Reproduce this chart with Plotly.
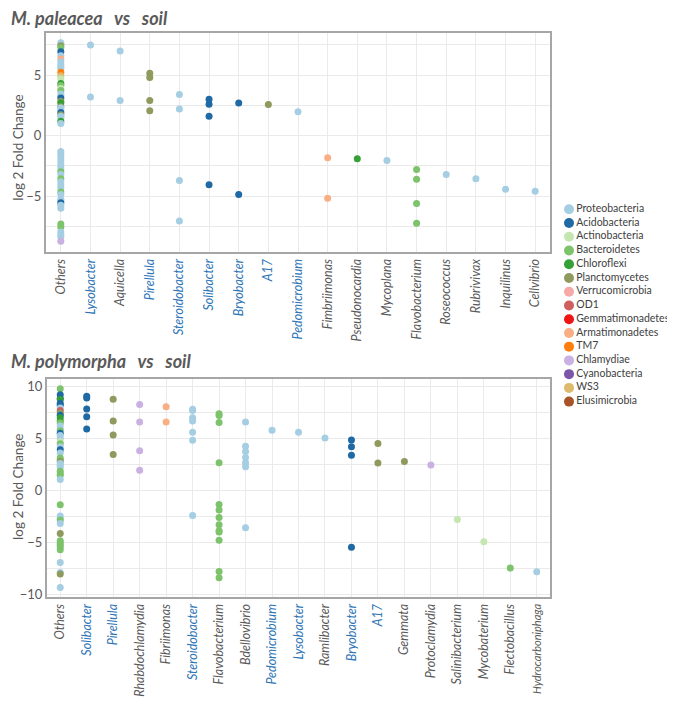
import plotly.graph_objects as go

FONT = "Lato"
GRAY = "#595959"
BLUE = "#2E75B6"

PHYLA = ["Proteobacteria", "Acidobacteria", "Actinobacteria", "Bacteroidetes", "Chloroflexi",
         "Planctomycetes", "Verrucomicrobia", "OD1", "Gemmatimonadetes", "Armatimonadetes",
         "TM7", "Chlamydiae", "Cyanobacteria", "WS3", "Elusimicrobia"]
PHYLUM_COLORS = ["#A6CEE3", "#1F6AA5", "#C5E6B0", "#7DC36B", "#35A035",
                 "#8F9A5E", "#F7A8A8", "#CF5F5F", "#F01414", "#F9AE84",
                 "#FF7F0E", "#C9B1E3", "#7B55A8", "#DDBA6C", "#A8532A"]

# ---------------- M. paleacea vs soil ----------------
TOP_GENERA = ["Others", "Lysobacter", "Aquicella", "Pirellula", "Steroidobacter", "Solibacter",
              "Bryobacter", "A17", "Pedomicrobium", "Fimbriimonas", "Pseudonocardia", "Mycoplana",
              "Flavobacterium", "Roseococcus", "Rubrivivax", "Inquilinus", "Cellvibrio"]
TOP_SHARED = ["Lysobacter", "Pirellula", "Steroidobacter", "Solibacter", "Bryobacter", "A17", "Pedomicrobium"]
TOP_GENUS_PHYLUM = [None, "Proteobacteria", "Proteobacteria", "Planctomycetes", "Proteobacteria",
                    "Acidobacteria", "Acidobacteria", "Planctomycetes", "Proteobacteria",
                    "Armatimonadetes", "Chloroflexi", "Proteobacteria", "Bacteroidetes",
                    "Proteobacteria", "Proteobacteria", "Proteobacteria", "Proteobacteria"]
TOP_GENUS_LFC = [None, [7.5, 3.2], [7.0, 2.9], [5.15, 4.8, 2.9, 2.07], [3.4, 2.2, -3.7, -7.05],
                 [3.0, 2.6, 1.6, -4.05], [2.7, -4.85], [2.57], [1.97], [-1.83, -5.16], [-1.9],
                 [-2.05], [-2.8, -3.6, -5.6, -7.24], [-3.2], [-3.55], [-4.43], [-4.6]]
TOP_OTHERS_LFC = [7.68, 7.55, 7.43, 7.27, 6.94, 6.6, 6.34, 6.1, 5.85, 5.7, 5.57, 5.25, 4.95, 4.7,
                  4.32, 4.15, 3.9, 3.74, 3.44, 3.3, 3.11, 2.84, 2.7, 2.4, 2.3, 2.13, 1.91, 1.72,
                  1.6, 1.48, 1.2, 1.01,
                  -1.3, -1.5, -1.75, -2.0, -2.25, -2.5, -2.75, -2.98, -3.2, -3.55, -3.8, -4.05,
                  -4.3, -4.65, -4.85, -5.25, -5.4, -5.55, -5.75, -6.0, -7.3, -7.55, -7.95, -8.2,
                  -8.35, -8.72]
TOP_OTHERS_PHYLUM = ["Proteobacteria", "Proteobacteria", "Planctomycetes", "Bacteroidetes",
                     "Acidobacteria", "Proteobacteria", "Armatimonadetes", "Proteobacteria",
                     "Proteobacteria", "Proteobacteria", "Proteobacteria", "TM7", "WS3",
                     "Actinobacteria", "Chloroflexi", "Bacteroidetes", "Actinobacteria",
                     "Bacteroidetes", "Proteobacteria", "Proteobacteria", "Acidobacteria",
                     "Planctomycetes", "Chloroflexi", "Planctomycetes", "Proteobacteria",
                     "Proteobacteria", "Acidobacteria", "Planctomycetes", "Proteobacteria",
                     "Proteobacteria", "Chloroflexi", "Proteobacteria",
                     "Proteobacteria", "Proteobacteria", "Proteobacteria", "Proteobacteria",
                     "Proteobacteria", "Proteobacteria", "Proteobacteria", "Bacteroidetes",
                     "Proteobacteria", "Bacteroidetes", "Proteobacteria", "Proteobacteria",
                     "Proteobacteria", "Bacteroidetes", "Proteobacteria", "Proteobacteria",
                     "Proteobacteria", "Acidobacteria", "Proteobacteria", "Proteobacteria",
                     "Bacteroidetes", "Bacteroidetes", "Proteobacteria", "Proteobacteria",
                     "Proteobacteria", "Chlamydiae"]

# ---------------- M. polymorpha vs soil ----------------
BOT_GENERA = ["Others", "Solibacter", "Pirellula", "Rhabdochlamydia", "Fibriimonas", "Steroidobacter",
              "Flavobacterium", "Bdellovibrio", "Pedomicrobium", "Lysobacter", "Ramlibacter",
              "Bryobacter", "A17", "Gemmata", "Protoclamydia", "Salinibacterium", "Mycobaterium",
              "Flectobacillus", "Hydrocarboniphaga"]
BOT_SHARED = ["Solibacter", "Pirellula", "Steroidobacter", "Pedomicrobium", "Lysobacter", "Bryobacter", "A17"]
BOT_GENUS_PHYLUM = [None, "Acidobacteria", "Planctomycetes", "Chlamydiae", "Armatimonadetes",
                    "Proteobacteria", "Bacteroidetes", "Proteobacteria", "Proteobacteria",
                    "Proteobacteria", "Proteobacteria", "Acidobacteria", "Planctomycetes",
                    "Planctomycetes", "Chlamydiae", "Actinobacteria", "Actinobacteria",
                    "Bacteroidetes", "Proteobacteria"]
BOT_GENUS_LFC = [None, [9.07, 8.9, 7.85, 7.09, 5.92], [8.78, 6.68, 5.34, 3.47],
                 [8.27, 6.58, 3.82, 1.94], [8.05, 6.58],
                 [7.82, 7.7, 7.0, 6.68, 5.6, 4.84, -2.42],
                 [7.38, 7.22, 6.55, 2.67, -1.34, -1.88, -2.61, -3.31, -3.88, -4.01, -4.8, -7.79, -8.4],
                 [6.58, 4.26, 3.75, 3.18, 2.67, 2.29, -3.6], [5.79], [5.6], [5.06],
                 [4.87, 4.2, 3.4, -5.47], [4.52, 2.64], [2.8], [2.45], [-2.8], [-4.93], [-7.47], [-7.82]]
BOT_OTHERS_LFC = [9.8, 9.22, 8.85, 8.75, 8.4, 8.2, 7.95, 7.7, 7.45, 7.25, 7.0, 6.7, 6.5, 6.2, 5.9,
                  5.75, 5.5, 5.3, 5.0, 4.7, 4.5, 4.2, 3.91, 3.6, 3.12, 2.95, 2.8, 2.6, 2.42, 2.2,
                  1.84, 1.6, 1.46, 1.05,
                  -1.37, -2.45, -2.7, -2.85, -3.18, -4.14, -4.85, -5.05, -5.25, -5.45, -5.7,
                  -6.93, -7.9, -8.05, -9.35]
BOT_OTHERS_PHYLUM = ["Bacteroidetes", "Acidobacteria", "Acidobacteria", "Chloroflexi", "Acidobacteria",
                     "Acidobacteria", "Proteobacteria", "OD1", "Planctomycetes", "Acidobacteria",
                     "Chloroflexi", "Chloroflexi", "Bacteroidetes", "Proteobacteria", "Proteobacteria",
                     "Bacteroidetes", "Acidobacteria", "Proteobacteria", "Proteobacteria",
                     "Actinobacteria", "Bacteroidetes", "Proteobacteria", "Acidobacteria",
                     "Proteobacteria", "Bacteroidetes", "Bacteroidetes", "Planctomycetes",
                     "Proteobacteria", "Proteobacteria", "Proteobacteria", "Bacteroidetes",
                     "Bacteroidetes", "Bacteroidetes", "Proteobacteria",
                     "Bacteroidetes", "Proteobacteria", "Proteobacteria", "Bacteroidetes",
                     "Proteobacteria", "Planctomycetes", "Bacteroidetes", "Bacteroidetes",
                     "Bacteroidetes", "Bacteroidetes", "Bacteroidetes", "Proteobacteria",
                     "Proteobacteria", "Planctomycetes", "Proteobacteria"]

W, H = 675, 702


def px_x(p):
    return p / W


def px_y(p):
    return 1 - p / H


def flatten(genera, genus_phylum, genus_lfc, others_lfc, others_phylum):
    xs, ys, cs = [], [], []
    for v, ph in zip(others_lfc, others_phylum):
        xs.append(0)
        ys.append(v)
        cs.append(PHYLUM_COLORS[PHYLA.index(ph)])
    for i in range(1, len(genera)):
        for v in genus_lfc[i]:
            xs.append(i)
            ys.append(v)
            cs.append(PHYLUM_COLORS[PHYLA.index(genus_phylum[i])])
    return xs, ys, cs


def tick_text(genera, shared):
    out = []
    for g in genera:
        col = BLUE if g in shared else GRAY
        size = "font-size:11px;" if len(g) > 15 else ""
        out.append(f'<span style="{size}color:{col}">{g}</span>')
    return out


fig = go.Figure()

tx, ty, tc = flatten(TOP_GENERA, TOP_GENUS_PHYLUM, TOP_GENUS_LFC, TOP_OTHERS_LFC, TOP_OTHERS_PHYLUM)
bx, by, bc = flatten(BOT_GENERA, BOT_GENUS_PHYLUM, BOT_GENUS_LFC, BOT_OTHERS_LFC, BOT_OTHERS_PHYLUM)

fig.add_trace(go.Scatter(x=tx, y=ty, mode="markers", xaxis="x", yaxis="y", showlegend=False,
                         marker=dict(color=tc, size=7, line=dict(width=0))))
fig.add_trace(go.Scatter(x=bx, y=by, mode="markers", xaxis="x2", yaxis="y2", showlegend=False,
                         marker=dict(color=bc, size=7, line=dict(width=0))))

# custom legend
fig.add_trace(go.Scatter(x=[0.05] * len(PHYLA), y=list(range(len(PHYLA))), mode="markers+text",
                         xaxis="x3", yaxis="y3", showlegend=False, text=PHYLA,
                         textposition="middle right",
                         textfont=dict(family=FONT, size=10.5, color="#404040"),
                         marker=dict(color=PHYLUM_COLORS, size=10, line=dict(width=0))))

axis_common = dict(showline=True, linecolor="#A6A6A6", linewidth=2, mirror=True,
                   gridcolor="#EAEAEA", gridwidth=1, zeroline=False, ticks="",
                   tickfont=dict(family=FONT, size=13, color=GRAY))
xtickfont = dict(family=FONT, size=12.5, color=GRAY, style="italic")

fig.update_layout(
    width=W, height=H, margin=dict(l=0, r=0, t=0, b=0),
    plot_bgcolor="white", paper_bgcolor="white",
    xaxis=dict(domain=[px_x(38), px_x(542)], anchor="y", range=[-0.5, len(TOP_GENERA) - 0.5],
               tickmode="array", tickvals=list(range(len(TOP_GENERA))),
               ticktext=tick_text(TOP_GENERA, TOP_SHARED), tickangle=-90,
               **{**axis_common, "tickfont": xtickfont}),
    yaxis=dict(domain=[px_y(245), px_y(24)], anchor="x", range=[-9.6, 8.5],
               tickmode="linear", tick0=0, dtick=5,
               minor=dict(dtick=2.5, tick0=0, showgrid=True, gridcolor="#EAEAEA"),
               **axis_common),
    xaxis2=dict(domain=[px_x(39), px_x(542)], anchor="y2", range=[-0.5, len(BOT_GENERA) - 0.5],
                tickmode="array", tickvals=list(range(len(BOT_GENERA))),
                ticktext=tick_text(BOT_GENERA, BOT_SHARED), tickangle=-90,
                **{**axis_common, "tickfont": xtickfont}),
    yaxis2=dict(domain=[px_y(593), px_y(373)], anchor="x2", range=[-10.25, 10.75],
                tickmode="linear", tick0=0, dtick=5,
                minor=dict(dtick=2.5, tick0=0, showgrid=True, gridcolor="#EAEAEA"),
                **axis_common),
    xaxis3=dict(domain=[px_x(555), 1.0], anchor="y3", range=[0, 1], visible=False),
    yaxis3=dict(domain=[px_y(405), px_y(193)], anchor="x3", range=[14.649, -0.649], visible=False),
)

title_font = dict(family=FONT, size=18, color=GRAY)
sp = "\u00a0\u00a0\u00a0"
fig.add_annotation(text=f"<b><i>M. paleacea{sp}vs{sp}soil</i></b>", xref="paper", yref="paper",
                   x=px_x(1), y=px_y(9), xanchor="left", yanchor="middle", showarrow=False,
                   font=title_font)
fig.add_annotation(text=f"<b><i>M. polymorpha{sp}vs{sp}soil</i></b>", xref="paper", yref="paper",
                   x=px_x(1), y=px_y(355), xanchor="left", yanchor="middle", showarrow=False,
                   font=title_font)
for yc in (140, 482):
    fig.add_annotation(text="log 2 Fold Change", xref="paper", yref="paper", textangle=-90,
                       x=px_x(10), y=px_y(yc), xanchor="center", yanchor="middle", showarrow=False,
                       font=dict(family=FONT, size=13.5, color=GRAY))

fig.write_html("out.html")
